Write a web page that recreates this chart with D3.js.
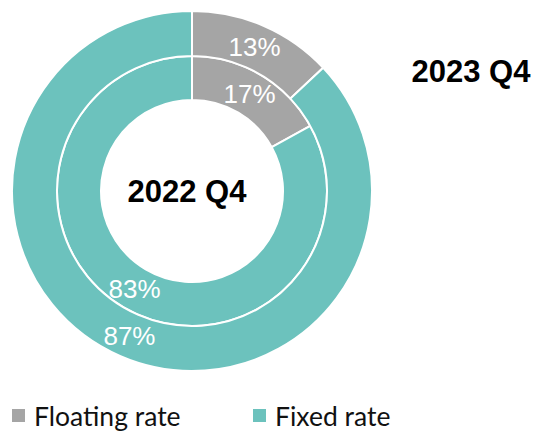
<!DOCTYPE html>
<html>
<head>
<meta charset="utf-8">
<script src="https://cdn.jsdelivr.net/npm/d3@7"></script>
<style>
  html, body { margin: 0; padding: 0; background: #fff; }
  svg { display: block; }
</style>
</head>
<body>
<svg id="chart" width="538" height="431"></svg>
<script>
// Share of debt by interest type (%)
const categories = ["Floating rate", "Fixed rate"];
const periods = ["2022 Q4", "2023 Q4"];
const values2022 = [17, 83];   // inner ring
const values2023 = [13, 87];   // outer ring
const colors = ["#A5A5A5", "#6CC2BD"];

const svg = d3.select("#chart");
const cx = 192, cy = 191;

const color = d3.scaleOrdinal().domain(categories).range(colors);
const pie = d3.pie().sort(null).value(d => d.value);

const rings = [
  { period: periods[0], values: values2022, inner: 91, outer: 135 },
  { period: periods[1], values: values2023, inner: 135, outer: 180 }
];

const g = svg.append("g").attr("transform", `translate(${cx},${cy})`);

rings.forEach(ring => {
  const data = categories.map((c, i) => ({ category: c, value: ring.values[i] }));
  const arc = d3.arc().innerRadius(ring.inner).outerRadius(ring.outer);
  const arcs = pie(data);

  g.append("g").selectAll("path")
    .data(arcs)
    .join("path")
    .attr("d", arc)
    .attr("fill", d => color(d.data.category))
    .attr("stroke", "#fff")
    .attr("stroke-width", 2);

  g.append("g").selectAll("text")
    .data(arcs)
    .join("text")
    .attr("transform", d => `translate(${arc.centroid(d)})`)
    .attr("text-anchor", "middle")
    .attr("dy", "0.36em")
    .attr("fill", "#fff")
    .style("font-family", "'Liberation Sans', Arial, sans-serif")
    .style("font-size", "26px")
    .text(d => d.data.value + "%");
});

// Period titles
const titleStyle = sel => sel
  .attr("text-anchor", "middle")
  .style("font-family", "'Liberation Sans', Arial, sans-serif")
  .style("font-weight", "bold")
  .style("font-size", "31px")
  .attr("fill", "#000");

svg.append("text").attr("x", 187).attr("y", 202).call(titleStyle).text(periods[0]);
svg.append("text").attr("x", 471).attr("y", 82).call(titleStyle).text(periods[1]);

// Legend
const legendX = d3.scaleOrdinal().domain(categories).range([12, 253]);
const legend = svg.append("g").selectAll("g")
  .data(categories)
  .join("g")
  .attr("transform", d => `translate(${legendX(d)},409)`);

legend.append("rect")
  .attr("width", 13).attr("height", 13)
  .attr("fill", d => color(d));

legend.append("text")
  .attr("x", 22).attr("y", 17)
  .style("font-family", "Lato, 'Open Sans', sans-serif")
  .style("font-size", "26.5px")
  .attr("fill", "#111")
  .text(d => d);
</script>
</body>
</html>
